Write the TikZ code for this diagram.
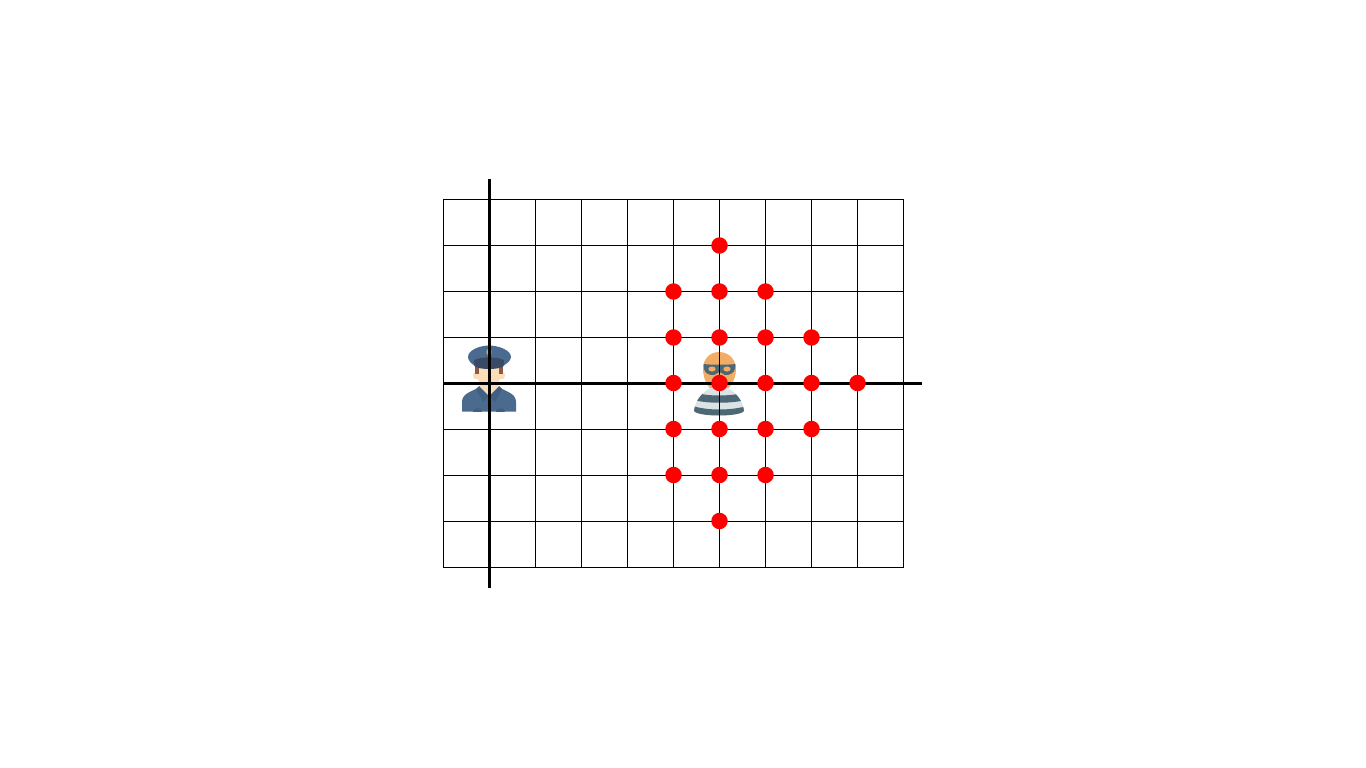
\documentclass[tikz,border=0pt]{standalone}
\definecolor{capblue}{HTML}{4A6B8F}
\definecolor{capdark}{HTML}{3A4A66}
\definecolor{skin}{HTML}{FBDDB8}
\definecolor{hair}{HTML}{8A5A48}
\definecolor{badge}{HTML}{E5A82E}
\definecolor{coat}{HTML}{4A6A8E}
\definecolor{coatdark}{HTML}{415F82}
\definecolor{thief}{HTML}{F2AC66}
\definecolor{slate}{HTML}{4E6774}
\definecolor{pale}{HTML}{DCE3E7}
\tikzset{
  gridline/.style={black,line width=0.85pt},
  axisline/.style={black,line width=3.05pt},
  reddot/.style={circle,fill=red,inner sep=0pt,minimum size=16.5pt}
}
\begin{document}
\begin{tikzpicture}[x=1pt,y=-1pt]
\useasboundingbox (0,0) rectangle (1366,768);
% police officer
\fill[coat] (462,411.5) -- (462,402) .. controls (462,394) and (470,392) .. (480,387) -- (498,387) .. controls (508,392) and (516,394) .. (516,402) -- (516,411.5) -- cycle;
\fill[coatdark] (473,411.5) .. controls (473,407) and (482,407) .. (482,411.5) -- cycle;
\fill[coatdark] (496,411.5) .. controls (496,407) and (505,407) .. (505,411.5) -- cycle;
\fill[coatdark] (479,386) -- (489,396) -- (499,386) -- (502,389) -- (495,402) -- (489,396) -- (483,402) -- (476,389) -- cycle;
\fill[skin] (480,380) -- (498,380) -- (498,387) -- (489,396) -- (480,387) -- cycle;
\fill[skin] (473,375) .. controls (473,372) and (476,372) .. (478,373) -- (500,373) .. controls (502,372) and (505,372) .. (505,375) .. controls (505,379) and (502,380) .. (500,379) .. controls (498,386) and (494,389) .. (489,389) .. controls (484,389) and (480,386) .. (478,379) .. controls (476,380) and (473,379) .. (473,375) -- cycle;
\fill[skin] (478,364) rectangle (500,376);
\fill[hair] (475,366) rectangle (479,374);
\fill[hair] (499,366) rectangle (503,374);
\fill[capblue] (468,357) .. controls (468,350) and (480,345.5) .. (489,345.5) .. controls (498,345.5) and (511,350) .. (511,357) .. controls (511,361) and (506,364) .. (503,366) -- (475,366) .. controls (472,364) and (468,361) .. (468,357) -- cycle;
\fill[capdark] (474,360) .. controls (482,356.5) and (496,356.5) .. (504,360) -- (503.5,366) .. controls (500,370) and (478,370) .. (474.5,366) -- cycle;
\fill[badge] (489,352) ellipse (2.6 and 3.4);
% thief
\fill[thief] (719,352) .. controls (729,352) and (736,360) .. (736,369) .. controls (736,380) and (729,392) .. (719,392) .. controls (709,392) and (703,380) .. (703,369) .. controls (703,360) and (709,352) .. (719,352) -- cycle;
\begin{scope}
\clip (694,411) .. controls (695,400) and (703,392) .. (710,388) -- (728,388) .. controls (735,392) and (743,400) .. (744,411) .. controls (740,417) and (698,417) .. (694,411) -- cycle;
\fill[pale] (690,385) rectangle (750,420);
\fill[slate] (690,391) .. controls (705,397) and (733,397) .. (750,391) -- (750,399) .. controls (733,404) and (705,404) .. (690,399) -- cycle;
\fill[slate] (690,405) .. controls (705,411) and (733,411) .. (750,405) -- (750,420) -- (690,420) -- cycle;
\end{scope}
\fill[thief] (711,386) .. controls (713,392) and (725,392) .. (727,386) -- (719,380) -- cycle;
\fill[slate] (703.5,364) .. controls (710,365) and (728,365) .. (735.5,364) -- (735,369) .. controls (734,373) and (729,375.5) .. (725,375) .. controls (722,374) and (721,372) .. (719.5,372) .. controls (718,372) and (717,374) .. (714,375) .. controls (709,375.5) and (705,373) .. (704,369) -- cycle;
\fill[thief] (712,369) ellipse (3.6 and 2.5);
\fill[thief] (727,369) ellipse (3.6 and 2.5);
% grid
\foreach \gx in {443,535,581,627,673,719,765,811,857,903.5}
  \draw[gridline] (\gx,199) -- (\gx,567.5);
\foreach \gy in {199,245,291,337,429,475,521,567.5}
  \draw[gridline] (443,\gy) -- (903.5,\gy);
\draw[axisline] (489.4,179) -- (489.4,588);
\draw[axisline] (443,383.4) -- (922,383.4);
% red points
\foreach \px/\py [count=\k] in {719.5/245.5,
  673.5/291.5,719.5/291.5,765.5/291.5,
  673.5/337.5,719.5/337.5,765.5/337.5,811.5/337.5,
  673.5/383,719.5/383,765.5/383,811.5/383,857.5/383,
  673.5/429,719.5/429,765.5/429,811.5/429,
  673.5/475,719.5/475,765.5/475,
  719.5/521}
  \node[reddot] (p\k) at (\px,\py) {};
\end{tikzpicture}
\end{document}
